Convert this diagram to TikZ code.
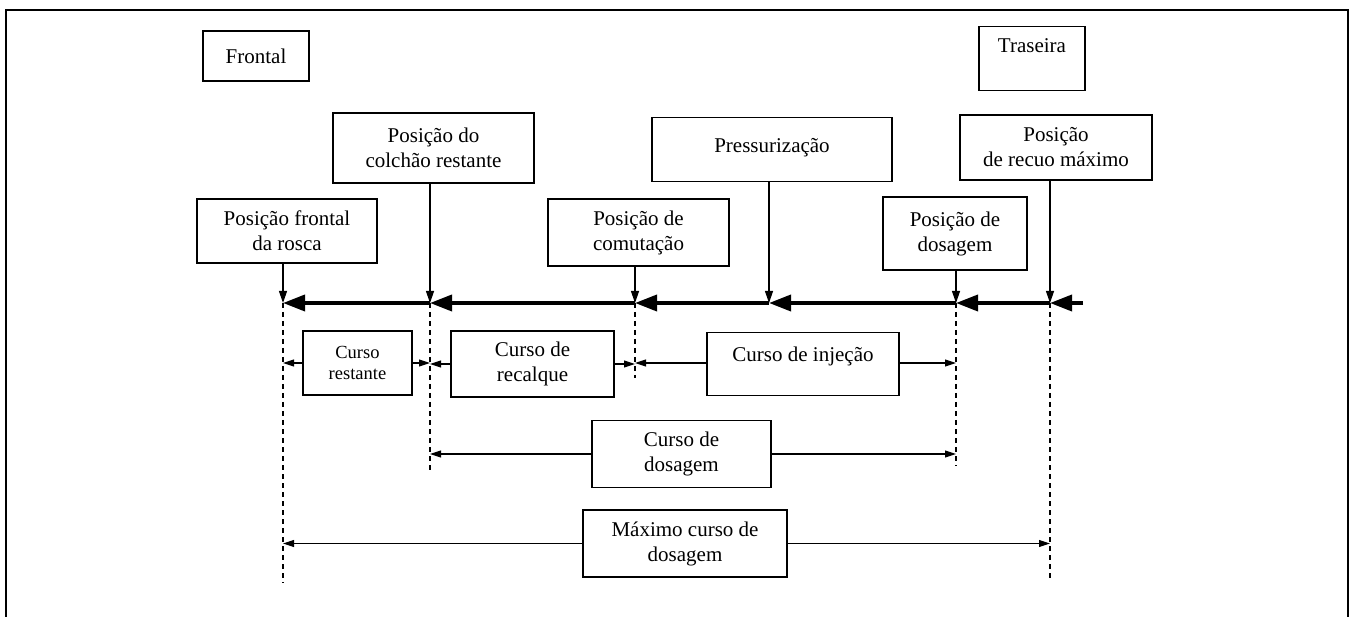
\documentclass[tikz,border=0pt]{standalone}
\usepackage{fontspec}
\setmainfont{Liberation Serif}
\usetikzlibrary{arrows.meta}
\begin{document}
\begin{tikzpicture}[x=1pt,y=-1pt,
  box/.style={draw, line width=1.5pt, inner sep=2pt, align=center,
    font=\fontsize{21}{25}\selectfont},
  smallbox/.style={box, font=\fontsize{18.5}{21.5}\selectfont},
  mainline/.style={line width=3.6pt, -{Triangle[length=22pt,width=16pt]}},
  downarrow/.style={line width=1.2pt, -{Triangle[length=12pt,width=8pt]}},
  dimarrow/.style={line width=1.1pt, -{Triangle[length=11pt,width=7pt]}},
  dashline/.style={line width=1.5pt, dash pattern=on 5pt off 4pt},
  frame/.style={line width=2.5pt}]
\useasboundingbox (0,0) rectangle (1352,617);
\draw[frame] (6,620) -- (6,10) -- (1348,10) -- (1348,620);

% top labels
\node[box, minimum width=106pt, minimum height=50pt] (frontal) at (256,56) {Frontal};
\node[box, minimum width=106pt, inner ysep=5pt, text height=21pt, text depth=33pt, anchor=north] (traseira) at (1032,26) {Traseira};

% position boxes
\node[box, minimum width=180pt, minimum height=64pt] (rosca) at (287,231) {Posição frontal\\da rosca};
\node[box, minimum width=201pt, minimum height=70pt] (colchao) at (433.5,148) {Posição do\\colchão restante};
\node[box, minimum width=181pt, minimum height=67pt] (comut) at (638.5,232.5) {Posição de\\comutação};
\node[box, minimum width=240pt, inner ysep=5pt, text height=30pt, text depth=24pt, anchor=north] (press) at (772,117) {Pressurização};
\node[box, minimum width=144pt, minimum height=73pt] (posdos) at (955,233.5) {Posição de\\dosagem};
\node[box, minimum width=192pt, minimum height=65pt] (recuo) at (1056,147.5) {Posição\\de recuo máximo};

% points on the main line
\coordinate (p1) at (283,303);
\coordinate (p2) at (430,303);
\coordinate (p3) at (635,303);
\coordinate (p4) at (769,303);
\coordinate (p5) at (956,303);
\coordinate (p6) at (1050,303);
\coordinate (pend) at (1083,303);

% dashed verticals
\coordinate (q1) at (283,583);
\coordinate (q2) at (430,470);
\coordinate (q3) at (635,378);
\coordinate (q5) at (956,466);
\coordinate (q6) at (1050,580);
\draw[dashline] (p1) -- (q1);
\draw[dashline] (p2) -- (q2);
\draw[dashline] (p3) -- (q3);
\draw[dashline] (p5) -- (q5);
\draw[dashline] (p6) -- (q6);

% main line
\draw[mainline] (pend) -- (p6);
\draw[mainline] (p6) -- (p5);
\draw[mainline] (p5) -- (p4);
\draw[mainline] (p4) -- (p3);
\draw[mainline] (p3) -- (p2);
\draw[mainline] (p2) -- (p1);

% vertical arrows
\draw[downarrow] (rosca.south -| p1) -- (p1);
\draw[downarrow] (colchao.south -| p2) -- (p2);
\draw[downarrow] (comut.south -| p3) -- (p3);
\draw[downarrow] (press.south -| p4) -- (p4);
\draw[downarrow] (posdos.south -| p5) -- (p5);
\draw[downarrow] (recuo.south -| p6) -- (p6);

% stroke boxes
\node[smallbox, minimum width=109pt, minimum height=64pt] (restante) at (357.5,363) {Curso\\restante};
\node[box, minimum width=163pt, minimum height=66pt] (recalque) at (532.5,364) {Curso de\\recalque};
\node[box, minimum width=192pt, inner ysep=5pt, text height=24pt, text depth=29pt, anchor=north] (injecao) at (803,332) {Curso de injeção};
\node[box, minimum width=179pt, minimum height=67pt] (cursodos) at (681.5,454) {Curso de\\dosagem};
\node[box, minimum width=204pt, minimum height=67pt] (maximo) at (685,543.5) {Máximo curso de\\dosagem};

\draw[dimarrow] (restante.west) -- (restante.west -| p1);
\draw[dimarrow] (restante.east) -- (restante.east -| p2);
\draw[dimarrow] (recalque.west) -- (recalque.west -| p2);
\draw[dimarrow] (recalque.east) -- (recalque.east -| p3);
\draw[dimarrow] (injecao.west |- restante.east) -- (restante.east -| p3);
\draw[dimarrow] (injecao.east |- restante.east) -- (restante.east -| p5);
\draw[dimarrow] (cursodos.west) -- (cursodos.west -| p2);
\draw[dimarrow] (cursodos.east) -- (cursodos.east -| p5);
\draw[dimarrow] (maximo.west) -- (maximo.west -| p1);
\draw[dimarrow] (maximo.east) -- (maximo.east -| p6);
\end{tikzpicture}
\end{document}
